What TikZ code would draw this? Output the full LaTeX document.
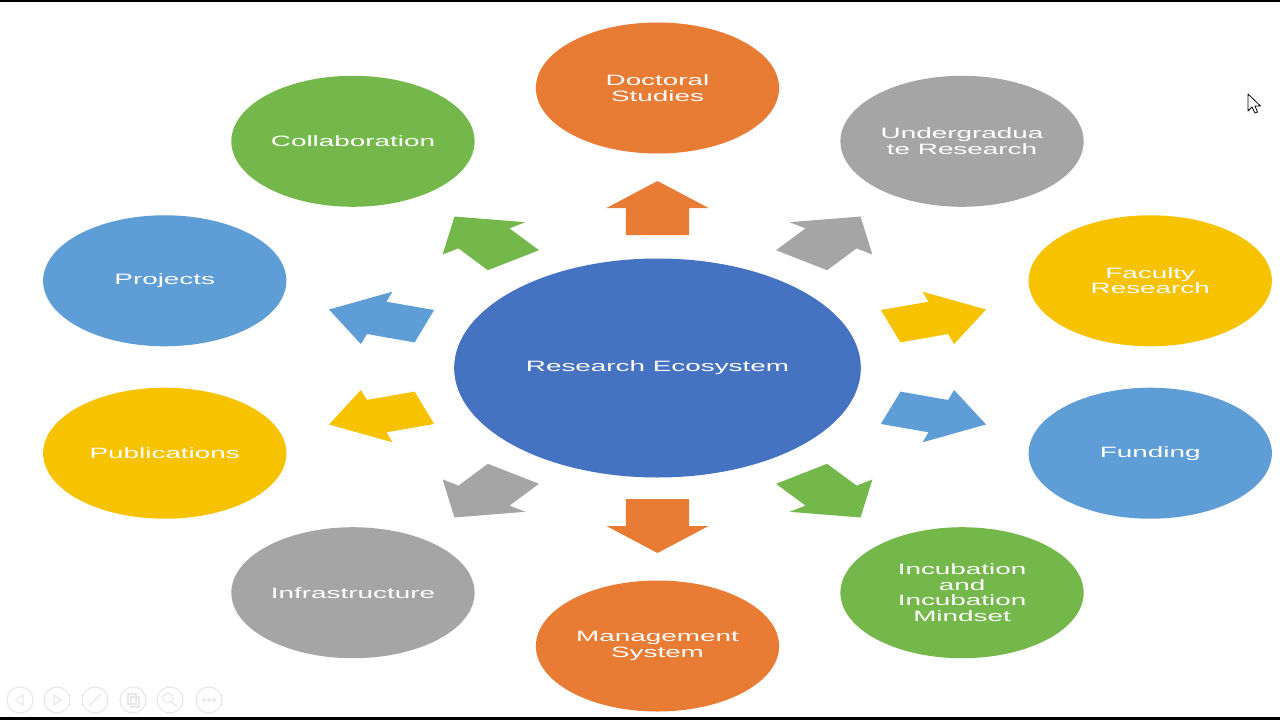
\documentclass[tikz,border=0pt]{standalone}
\usepackage{fontspec}
\setmainfont{Liberation Sans}
\definecolor{cOrange}{HTML}{E97C35}
\definecolor{cGray}{HTML}{A5A5A5}
\definecolor{cYellow}{HTML}{F7C300}
\definecolor{cLBlue}{HTML}{5E9DD5}
\definecolor{cGreen}{HTML}{74B74A}
\definecolor{cBlue}{HTML}{4672C2}
\definecolor{cIcon}{HTML}{E8E8E8}
\begin{document}
\begin{tikzpicture}[x=0.5pt,y=0.5pt,
  bubble/.style={circle, minimum size=65.5pt, inner sep=0pt, outer sep=0pt,
    transform shape, text=white, align=center,
    font=\fontsize{7.5}{7.75}\selectfont},
  blockarrow/.pic={\fill[pic actions] (27,0) -- (0,27.5) -- (0,17) -- (-27,17)
    -- (-27,-17) -- (0,-17) -- (0,-27.5) -- cycle;},
  icon/.style={draw=cIcon, line width=0.6pt}
  ]
\useasboundingbox (0,0) rectangle (1280,720);
\fill[white] (0,0) rectangle (1280,720);
\fill[black] (0,718) rectangle (1280,720);
\fill[black] (0,0) rectangle (1280,3);

\begin{scope}[shift={(657.5,353)}, xscale=1.857]
  % hub
  \node[bubble, fill=cBlue, minimum size=109.5pt] (hub) at (0,-1) {Research Ecosystem};
  % outer bubbles
  \node[bubble, fill=cOrange] (doc)  at (90:279)   {Doctoral\\Studies};
  \node[bubble, fill=cGray]   (ug)   at (54:279)   {Undergradua\\te Research};
  \node[bubble, fill=cYellow] (fac)  at (18:279)   {Faculty\\Research};
  \node[bubble, fill=cLBlue]  (fund) at (-18:279)  {Funding};
  \node[bubble, fill=cGreen]  (inc)  at (-54:279)  {Incubation\\and\\Incubation\\Mindset};
  \node[bubble, fill=cOrange] (mgmt) at (-90:279)  {Management\\System};
  \node[bubble, fill=cGray]   (infr) at (-126:279) {Infrastructure};
  \node[bubble, fill=cYellow] (pub)  at (-162:279) {Publications};
  \node[bubble, fill=cLBlue]  (proj) at (162:279)  {Projects};
  \node[bubble, fill=cGreen]  (coll) at (126:279)  {Collaboration};
  % block arrows
  \pic[transform shape, fill=cOrange, rotate=90]   at (90:159)   {blockarrow};
  \pic[transform shape, fill=cGray,   rotate=54]   at (54:159)   {blockarrow};
  \pic[transform shape, fill=cYellow, rotate=18]   at (18:159)   {blockarrow};
  \pic[transform shape, fill=cLBlue,  rotate=-18]  at (-18:159)  {blockarrow};
  \pic[transform shape, fill=cGreen,  rotate=-54]  at (-54:159)  {blockarrow};
  \pic[transform shape, fill=cOrange, rotate=-90]  at (-90:159)  {blockarrow};
  \pic[transform shape, fill=cGray,   rotate=-126] at (-126:159) {blockarrow};
  \pic[transform shape, fill=cYellow, rotate=-162] at (-162:159) {blockarrow};
  \pic[transform shape, fill=cLBlue,  rotate=162]  at (162:159)  {blockarrow};
  \pic[transform shape, fill=cGreen,  rotate=126]  at (126:159)  {blockarrow};
\end{scope}

% presentation toolbar icons (bottom left)
\foreach \cx in {20,57,95,133,170,209} {\draw[icon] (\cx,20) circle (13);}
\draw[icon] (23,25) -- (16,20) -- (23,15) -- cycle;
\draw[icon] (54,25) -- (61,20) -- (54,15) -- cycle;
\draw[icon] (89,14) -- (101,26);
\draw[icon] (128,16) rectangle (136,26);
\draw[icon] (131,13) rectangle (139,23);
\draw[icon] (168,22) circle (5);
\draw[icon] (172,18) -- (177,13);
\foreach \dx in {-5,0,5} {\draw[icon] (209+\dx,20) circle (1.6);}

% mouse cursor
\draw[black, fill=white, line width=0.4pt, line join=round]
  (1248,626) -- (1248,609) -- (1252,613) -- (1255,607) -- (1257.5,608)
  -- (1255,614) -- (1260.5,614) -- cycle;
\end{tikzpicture}
\end{document}
